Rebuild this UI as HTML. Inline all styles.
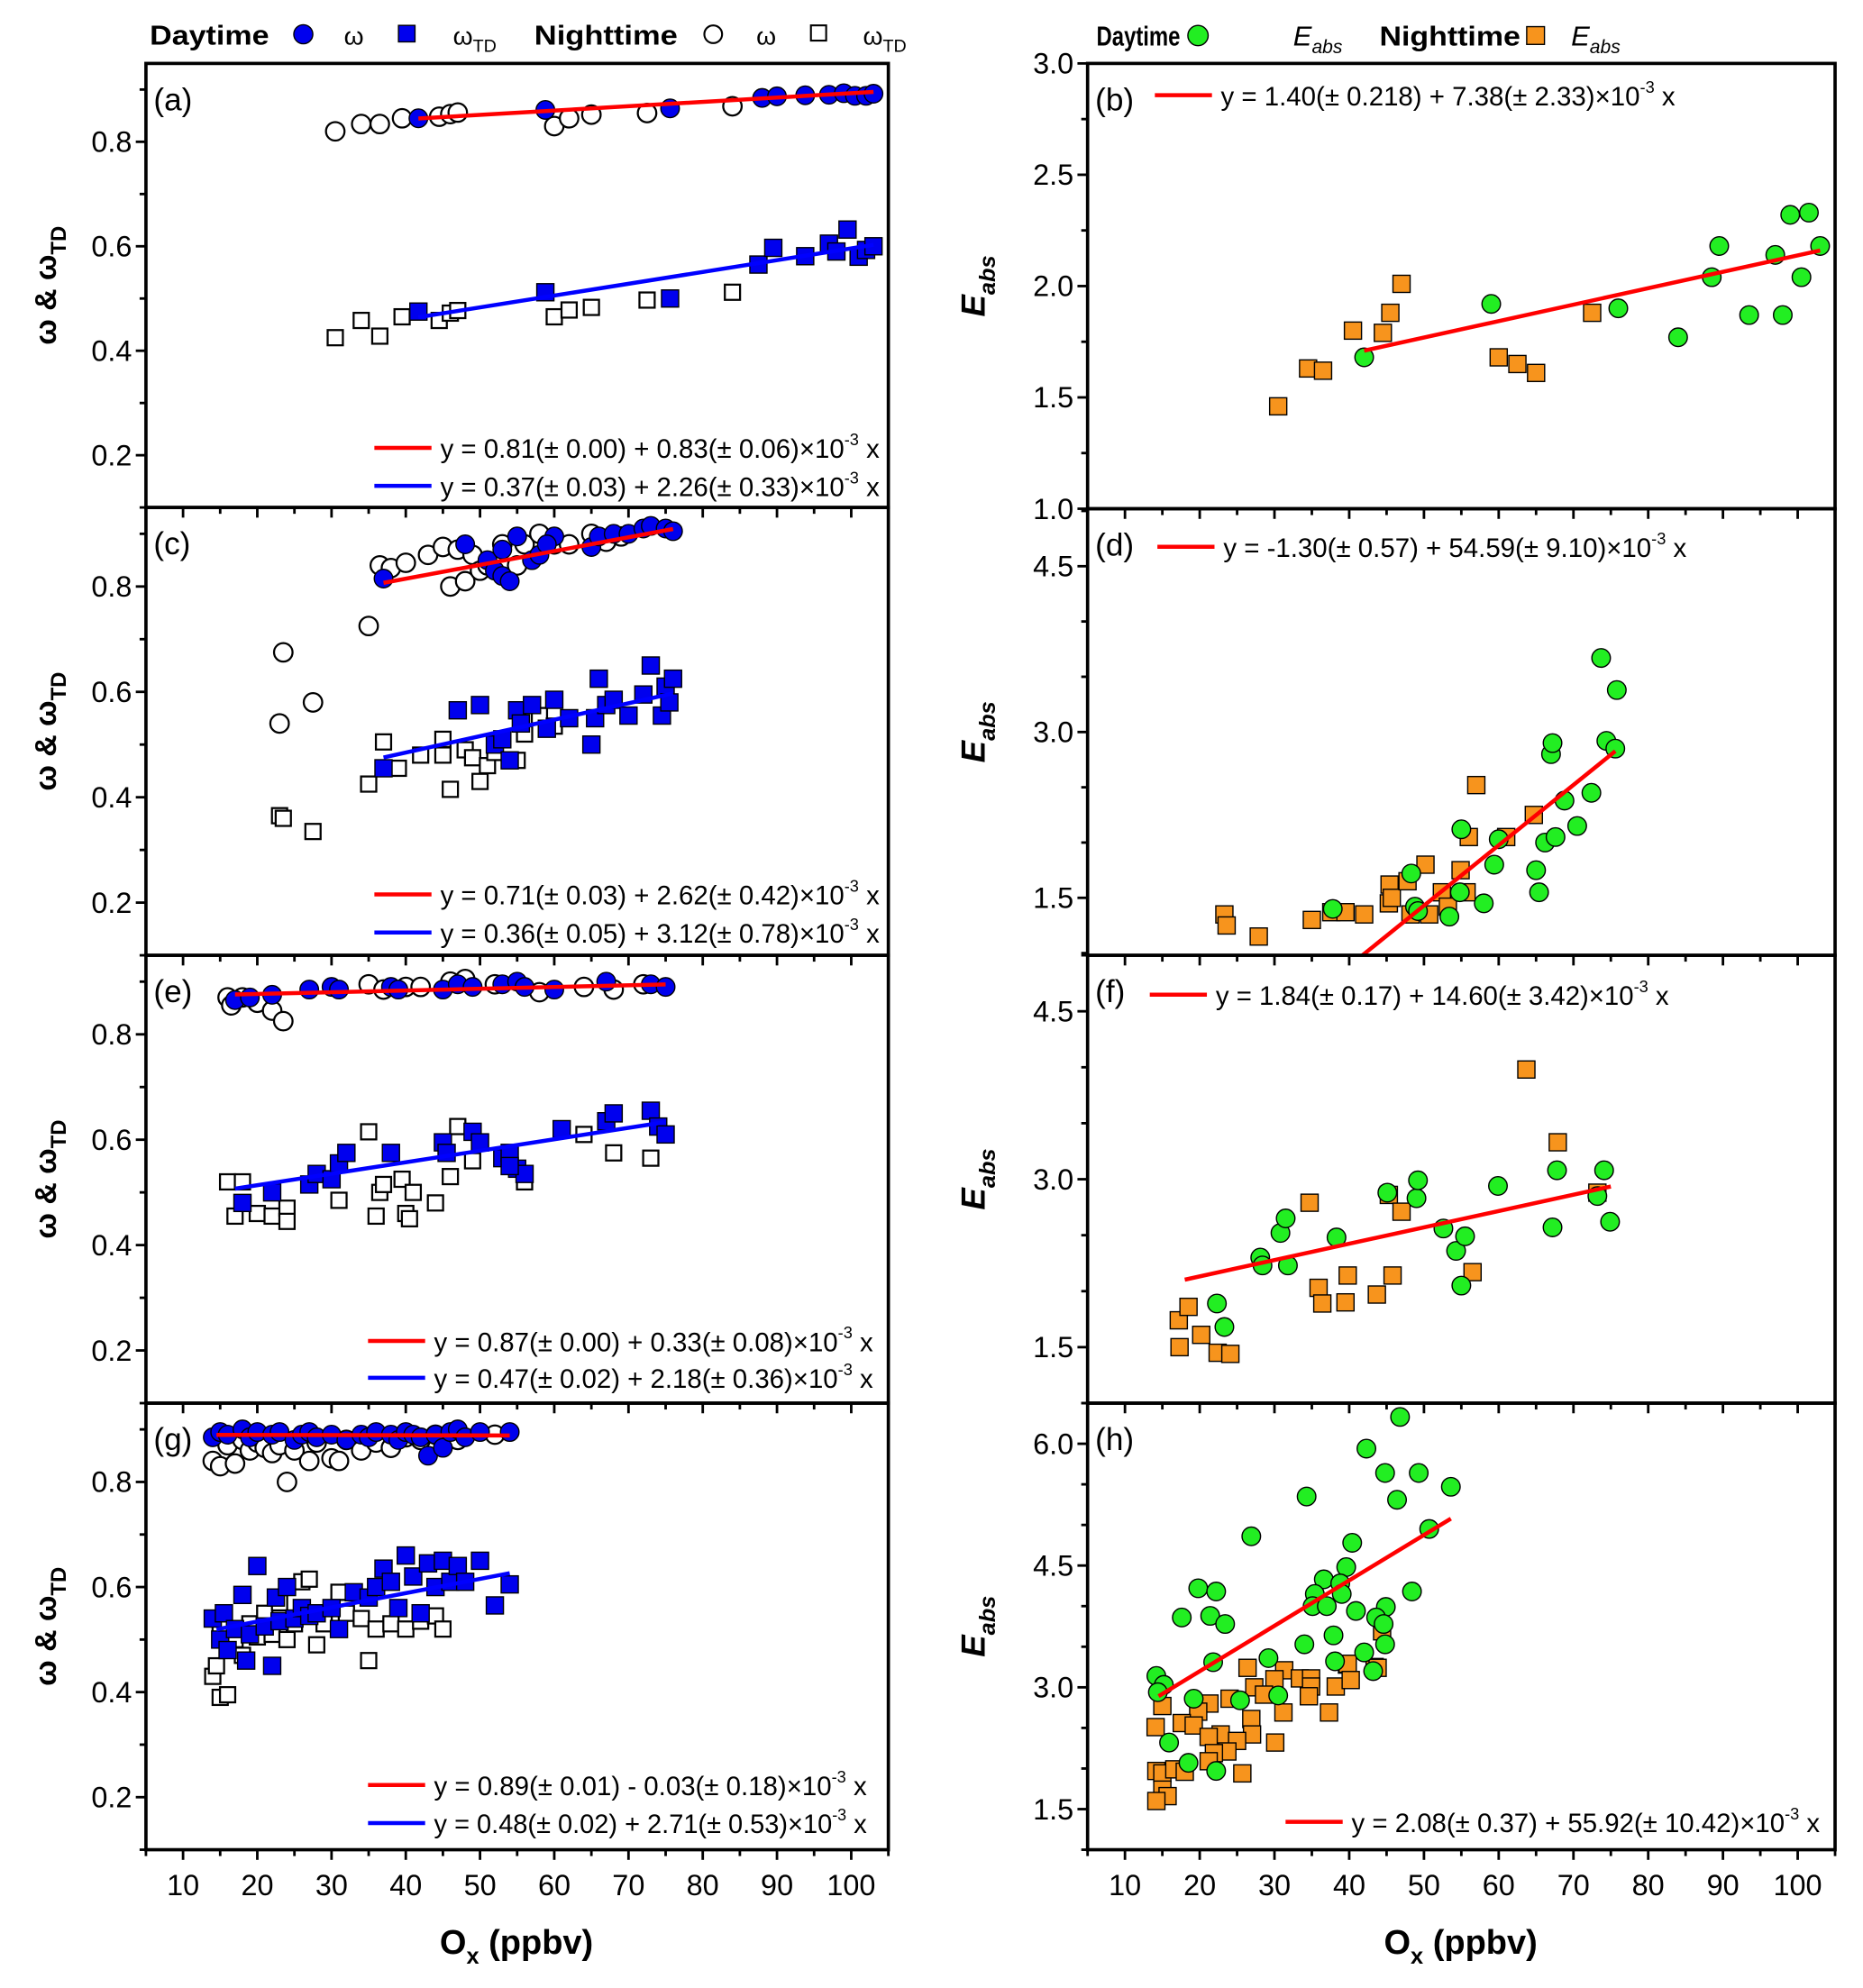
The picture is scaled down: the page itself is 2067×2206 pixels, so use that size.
<!DOCTYPE html>
<html><head><meta charset="utf-8">
<style>
html,body{margin:0;padding:0;background:#fff;}
svg{display:block;}
text{font-family:"Liberation Sans Narrow","Liberation Sans",sans-serif;}
.b{font-family:"Liberation Sans",sans-serif;font-weight:bold;}
</style></head>
<body>
<svg id="fig" xmlns="http://www.w3.org/2000/svg" width="2067" height="2206" viewBox="0 0 1468 1567" preserveAspectRatio="none">
<g>
<text class="b" x="118" y="35" font-size="22" textLength="94" lengthAdjust="spacingAndGlyphs">Daytime</text>
<circle cx="239" cy="27" r="7.5" fill="#0000ee" stroke="#000" stroke-width="1"/>
<text x="271" y="35" font-size="20">ω</text>
<rect x="314" y="20" width="13" height="13" fill="#0000ee" stroke="#000" stroke-width="1"/>
<text x="357" y="35" font-size="20">ω<tspan font-size="14" dy="6">TD</tspan></text>
<text class="b" x="421" y="35" font-size="22" textLength="113" lengthAdjust="spacingAndGlyphs">Nighttime</text>
<circle cx="562" cy="27" r="7" fill="#fff" stroke="#000" stroke-width="1.5"/>
<text x="596" y="35" font-size="20">ω</text>
<rect x="639" y="20" width="12" height="12" fill="#fff" stroke="#000" stroke-width="1.5"/>
<text x="680" y="35" font-size="20">ω<tspan font-size="14" dy="6">TD</tspan></text>
</g>
<g>
<text class="b" x="864" y="36" font-size="22" textLength="66" lengthAdjust="spacingAndGlyphs">Daytime</text>
<circle cx="944" cy="28" r="8" fill="#22ee22" stroke="#000" stroke-width="1"/>
<text x="1019" y="36" font-size="22" font-style="italic">E<tspan font-size="15" dy="6">abs</tspan></text>
<text class="b" x="1087" y="36" font-size="22" textLength="111" lengthAdjust="spacingAndGlyphs">Nighttime</text>
<rect x="1203" y="21" width="14" height="14" fill="#f7941d" stroke="#000" stroke-width="1"/>
<text x="1238" y="36" font-size="22" font-style="italic">E<tspan font-size="15" dy="6">abs</tspan></text>
</g>
<g id="plots"></g>
</svg>
<script>
// ---- data (x = Ox ppbv, y = value) ----
const xTicks = [10,20,30,40,50,60,70,80,90,100];
const leftTickLabels = ["0.2","0.4","0.6","0.8"];
const bTickLabels = ["1.0","1.5","2.0","2.5","3.0"];
const dfTickLabels = ["1.5","3.0","4.5"];
const hTickLabels = ["1.5","3.0","4.5","6.0"];

const aDayW = [[41.7,0.845],[58.8,0.861],[75.6,0.864],[88,0.884],[90,0.887],[93.8,0.889],[97,0.89],[99,0.893],[100.5,0.888],[102,0.888],[103,0.892]];
const aDayTD = [[41.7,0.475],[58.8,0.512],[75.6,0.5],[87.5,0.565],[89.5,0.597],[93.8,0.581],[97,0.605],[99.5,0.632],[98,0.59],[101,0.58],[102,0.593],[103,0.6]];
const aNightW = [[30.5,0.82],[34,0.834],[36.5,0.834],[39.5,0.845],[44.5,0.848],[46,0.853],[47,0.856],[60,0.83],[62,0.845],[65,0.852],[72.5,0.855],[84,0.868]];
const aNightTD = [[30.5,0.425],[34,0.458],[36.5,0.428],[39.5,0.465],[44.5,0.458],[46,0.472],[47,0.477],[60,0.465],[62,0.478],[65,0.483],[72.5,0.497],[84,0.512]];

const cDayW = [[37,0.815],[48,0.88],[51,0.85],[52,0.83],[53,0.82],[54,0.81],[55,0.895],[57,0.85],[58,0.86],[60,0.895],[65,0.875],[66,0.895],[68,0.9],[70,0.9],[72,0.91],[73,0.915],[75,0.91],[76,0.905],[53,0.87],[59,0.88]];
const cNightW = [[23,0.54],[23.5,0.675],[27.5,0.58],[35,0.725],[36.5,0.84],[38,0.835],[40,0.845],[43,0.86],[45,0.875],[46,0.8],[47,0.87],[48,0.81],[49,0.86],[50,0.83],[51,0.84],[53,0.88],[55,0.84],[56,0.88],[58,0.9],[60,0.88],[62,0.88],[65,0.9],[67,0.885],[69,0.895]];
const cDayTD = [[37,0.455],[47,0.565],[50,0.575],[52,0.5],[53,0.51],[54,0.47],[55,0.565],[55.5,0.54],[57,0.575],[59,0.53],[60,0.585],[62,0.55],[65,0.5],[65.5,0.55],[66,0.625],[67,0.575],[68,0.585],[70,0.555],[72,0.595],[73,0.65],[74.5,0.555],[75,0.61],[76,0.625],[75.5,0.58]];
const cNightTD = [[23,0.365],[23.5,0.36],[27.5,0.335],[35,0.425],[37,0.505],[39,0.455],[42,0.48],[45,0.51],[45,0.48],[46,0.415],[48,0.49],[49,0.475],[50,0.43],[51,0.46],[52,0.485],[55,0.47],[56,0.52],[58,0.555],[60,0.535]];

const eDayW = [[17,0.865],[19,0.87],[22,0.875],[27,0.885],[30,0.89],[31,0.885],[38,0.89],[39,0.885],[45,0.885],[47,0.895],[49,0.89],[53,0.895],[55,0.9],[56,0.89],[60,0.885],[67,0.9],[73,0.895],[75,0.89]];
const eNightW = [[16,0.87],[16.5,0.855],[18,0.87],[20,0.86],[22,0.845],[23.5,0.825],[35,0.895],[37,0.885],[40,0.89],[42,0.89],[46,0.9],[48,0.905],[52,0.895],[58,0.88],[64,0.89],[68,0.885],[72,0.895]];
const eDayTD = [[18,0.48],[22,0.5],[27,0.515],[28,0.535],[30,0.525],[31,0.555],[32,0.575],[38,0.575],[45,0.595],[45.5,0.575],[49,0.615],[50,0.595],[53,0.565],[54,0.575],[55,0.545],[56,0.535],[61,0.62],[67,0.635],[68,0.65],[73,0.655],[74,0.625],[75,0.61],[54,0.55]];
const eNightTD = [[16,0.52],[17,0.455],[18,0.52],[20,0.46],[22,0.455],[24,0.47],[24,0.445],[31,0.485],[35,0.615],[36,0.455],[36.5,0.5],[37,0.515],[39.5,0.525],[40,0.46],[40.5,0.45],[41,0.5],[44,0.48],[46,0.53],[47,0.625],[49,0.56],[56,0.52],[64,0.61],[68,0.575],[73,0.565]];

const gDayW = [[14,0.885],[15,0.895],[16,0.89],[18,0.9],[19,0.885],[20,0.895],[22,0.89],[23,0.895],[25,0.88],[26,0.89],[27,0.895],[28,0.885],[30,0.89],[32,0.88],[34,0.89],[35,0.885],[36,0.895],[38,0.89],[39,0.88],[40,0.895],[41,0.89],[42,0.885],[43,0.85],[44,0.89],[45,0.865],[46,0.895],[47,0.9],[48,0.885],[50,0.895],[54,0.895]];
const gNightW = [[14,0.84],[15,0.83],[16,0.87],[17,0.835],[18,0.88],[19,0.86],[20,0.875],[21,0.865],[22,0.855],[23,0.87],[24,0.8],[25,0.86],[27,0.84],[28,0.875],[30,0.845],[31,0.84],[32,0.88],[34,0.86],[36,0.875],[38,0.865],[40,0.885],[42,0.88],[44,0.89],[47,0.88],[52,0.89]];
const gDayTD = [[14,0.54],[15,0.5],[15.5,0.55],[16,0.48],[17,0.52],[18,0.585],[18.5,0.46],[19,0.51],[20,0.64],[21,0.525],[22,0.45],[22.5,0.58],[23,0.535],[24,0.6],[25,0.54],[26,0.56],[27,0.545],[28,0.55],[30,0.56],[31,0.52],[33,0.59],[35,0.58],[36,0.6],[37,0.635],[38,0.61],[39,0.56],[40,0.66],[41,0.62],[42,0.55],[43,0.645],[44,0.6],[45,0.65],[46,0.61],[47,0.64],[48,0.61],[50,0.65],[52,0.565],[54,0.605]];
const gNightTD = [[14,0.43],[14.5,0.45],[15,0.39],[16,0.395],[15,0.52],[17,0.5],[18,0.47],[19,0.53],[20,0.505],[21,0.55],[22,0.51],[23,0.57],[24,0.5],[25,0.53],[26,0.61],[27,0.615],[28,0.49],[29,0.53],[31,0.59],[32,0.55],[34,0.54],[35,0.46],[36,0.52],[38,0.53],[40,0.52],[42,0.535],[44,0.545],[45,0.52]];

const bDay = [[42,1.68],[59,1.92],[76,1.9],[84,1.77],[88.5,2.04],[89.5,2.18],[93.5,1.87],[97,2.14],[98,1.87],[99,2.32],[100.5,2.04],[101.5,2.33],[103,2.18]];
const bNight = [[30.5,1.46],[34.5,1.63],[36.5,1.62],[40.5,1.8],[44.5,1.79],[45.5,1.88],[47,2.01],[60,1.68],[62.5,1.65],[65,1.61],[72.5,1.88]];

const dDay = [[37.8,1.4],[48.3,1.72],[48.8,1.42],[49.2,1.38],[53.4,1.33],[54.8,1.55],[55,2.12],[58,1.45],[59.4,1.8],[60,2.03],[65,1.75],[65.4,1.55],[66.2,2.0],[67,2.8],[67.2,2.9],[67.6,2.05],[68.8,2.38],[70.5,2.15],[72.4,2.45],[73.7,3.67],[74.4,2.92],[75.8,3.38],[75.6,2.85]];
const dNight = [[23.3,1.35],[23.6,1.25],[27.9,1.15],[35,1.3],[37.6,1.37],[39.5,1.37],[42,1.35],[45.3,1.45],[45.4,1.62],[45.7,1.5],[47.8,1.65],[48.2,1.35],[50.2,1.8],[50.7,1.35],[52.4,1.55],[53.2,1.42],[54.9,1.75],[55.7,1.55],[56,2.05],[57,2.52],[61,2.05],[64.7,2.25]];

const fDay = [[22.3,1.89],[23.3,1.68],[28.1,2.3],[28.4,2.23],[30.8,2.52],[31.5,2.65],[31.8,2.23],[38.3,2.48],[45.1,2.88],[49,2.83],[49.2,2.99],[52.6,2.56],[54.3,2.36],[55,2.05],[55.5,2.49],[59.9,2.94],[67.2,2.57],[67.8,3.08],[73.2,2.85],[74.1,3.08],[74.9,2.62]];
const fNight = [[17.2,1.74],[18.5,1.86],[17.3,1.5],[20.2,1.61],[22.4,1.45],[24.1,1.44],[34.7,2.79],[35.9,2.03],[36.4,1.89],[39.5,1.9],[39.8,2.14],[43.7,1.97],[45.3,2.86],[45.8,2.14],[47,2.71],[56.5,2.17],[63.7,3.98],[67.9,3.33],[73.2,2.88]];

const hDay = [[46.8,6.33],[42.3,5.94],[44.8,5.64],[49.3,5.64],[53.6,5.47],[34.3,5.35],[46.4,5.31],[50.7,4.95],[26.9,4.86],[40.4,4.78],[39.6,4.48],[36.6,4.33],[38.8,4.28],[19.8,4.22],[22.2,4.18],[48.4,4.18],[35.4,4.15],[39.0,4.15],[35.1,4.0],[37.0,4.0],[44.9,3.99],[40.9,3.94],[21.4,3.88],[43.6,3.86],[17.6,3.86],[23.4,3.78],[44.6,3.78],[37.9,3.64],[34.0,3.53],[44.8,3.53],[42.0,3.43],[21.8,3.31],[38.1,3.32],[29.2,3.36],[43.2,3.2],[14.2,3.14],[15.2,3.03],[14.4,2.94],[19.2,2.86],[25.4,2.84],[30.5,2.9],[15.9,2.32],[18.5,2.07],[22.2,1.97]];
const hNight = [[26.4,3.24],[31.3,3.21],[30.0,3.1],[33.4,3.11],[34.9,3.11],[27.3,3.0],[34.9,3.01],[38.2,3.01],[39.7,3.28],[43.4,3.25],[43.8,3.24],[39.8,3.29],[28.6,2.91],[34.6,2.89],[24.0,2.86],[15.0,2.77],[21.3,2.8],[19.8,2.7],[31.2,2.69],[37.3,2.69],[14.1,2.51],[17.6,2.56],[26.9,2.61],[19.2,2.53],[22.8,2.42],[21.2,2.39],[27.0,2.42],[25.0,2.34],[30.1,2.32],[23.7,2.21],[21.9,2.19],[21.2,2.09],[25.7,1.94],[14.2,1.97],[15.0,1.94],[16.6,1.99],[18.0,1.96],[15.0,1.74],[15.7,1.66],[14.2,1.6],[44.4,3.69],[40.2,3.09]];

// fits: intercept, slope (x1e-3), x range
const fitIntercepts = {a1:0.81,a2:0.37,b:1.40,c1:0.71,c2:0.36,d:-1.30,e1:0.87,e2:0.47,f:1.84,g1:0.89,g2:0.48,h:2.08};
const fitSlopes = {a1:0.83,a2:2.26,b:7.38,c1:2.62,c2:3.12,d:54.59,e1:0.33,e2:2.18,f:14.60,g1:-0.03,g2:2.71,h:55.92};
const fitRanges = {a1:[41.7,103],a2:[41.7,103],b:[42,103],c1:[37,76],c2:[37,76],d:[38,75.6],e1:[17,75],e2:[17,75],f:[18,75],g1:[14.5,54],g2:[14.5,54],h:[14.5,53.6]};

// ---- drawing ----
const NS="http://www.w3.org/2000/svg";
const root=document.getElementById('plots');
const XMIN=5,XMAX=105;
function el(tag,attrs,parent){const e=document.createElementNS(NS,tag);for(const k in attrs)e.setAttribute(k,attrs[k]);(parent||root).appendChild(e);return e;}

const L={x0:115,x1:700}, R={x0:857,x1:1446};
const panels=[
 {id:'a',side:L,y0:50,y1:400,ymin:0.1,ymax:0.95,labels:leftTickLabels,minor:0.1,bottom:false},
 {id:'c',side:L,y0:400,y1:753,ymin:0.1,ymax:0.95,labels:leftTickLabels,minor:0.1,bottom:false},
 {id:'e',side:L,y0:753,y1:1106,ymin:0.1,ymax:0.95,labels:leftTickLabels,minor:0.1,bottom:false},
 {id:'g',side:L,y0:1106,y1:1458,ymin:0.1,ymax:0.95,labels:leftTickLabels,minor:0.1,bottom:true},
 {id:'b',side:R,y0:50,y1:401,ymin:1.0,ymax:3.0,labels:bTickLabels,minor:0.25,bottom:false},
 {id:'d',side:R,y0:401,y1:753,ymin:0.98,ymax:5.02,labels:dfTickLabels,minor:0.5,bottom:false},
 {id:'f',side:R,y0:753,y1:1106,ymin:1.0,ymax:5.0,labels:dfTickLabels,minor:0.5,bottom:false},
 {id:'h',side:R,y0:1106,y1:1458,ymin:1.0,ymax:6.5,labels:hTickLabels,minor:0.5,bottom:true}
];

function makeScales(p){
 const sx=v=>p.side.x0+(v-XMIN)/(XMAX-XMIN)*(p.side.x1-p.side.x0);
 const sy=v=>p.y1-(v-p.ymin)/(p.ymax-p.ymin)*(p.y1-p.y0);
 return {sx,sy};
}

const P={};
panels.forEach(p=>{
 const {sx,sy}=makeScales(p); p.sx=sx; p.sy=sy; P[p.id]=p;
 const g=el('g',{});
 
 
 p.g=g;
 const cp=el('clipPath',{id:'clip-'+p.id},g);
 el('rect',{x:p.side.x0,y:p.y0,width:p.side.x1-p.side.x0,height:p.y1-p.y0},cp);
 p.plot=el('g',{'clip-path':'url(#clip-'+p.id+')'},g);
 const yt=el('g',{},g);
 
 
 const start=Math.ceil(p.ymin/p.minor-1e-6)*p.minor;
 for(let v=start;v<=p.ymax+1e-9;v+=p.minor){
   const y=sy(v);
   const isMaj=p.labels.some(l=>Math.abs(parseFloat(l)-v)<1e-6);
   el('line',{x1:p.side.x0,x2:p.side.x0-(isMaj?8:5),y1:y,y2:y,stroke:'#000','stroke-width':2},yt);
 }
 p.labels.forEach(l=>{
   const t=el('text',{x:p.side.x0-11,y:sy(parseFloat(l))+8,'font-size':23,'text-anchor':'end'},yt);
   t.textContent=l;
   
   
 });
 const xt=el('g',{},g);
 
 
 for(let v=5;v<=105;v+=5){
   const x=sx(v), maj=(v%10===0);
   el('line',{x1:x,x2:x,y1:p.y1,y2:p.y1+(maj?8:5),stroke:'#000','stroke-width':2},xt);
 }
 if(p.bottom){
   xTicks.forEach(v=>{
     const t=el('text',{x:sx(v),y:p.y1+36,'font-size':23,'text-anchor':'middle'},xt);
     t.textContent=v;
     
     
   });
 }
 const lab=el('text',{x:p.side.x0+6,y:p.y0+37,'font-size':25},g);
 lab.textContent='('+p.id+')';
 
 
});

function circles(p,data,fill,name){
 const g=el('g',{},p.plot);
 
 
 data.forEach(d=>{
   const c=el('circle',{cx:p.sx(d[0]),cy:p.sy(d[1]),r:7.3,fill:fill,stroke:'#000','stroke-width':fill==='#fff'?1.6:1},g);
   
   
 });
}
function squares(p,data,fill,name){
 const g=el('g',{},p.plot);
 
 
 data.forEach(d=>{
   const s=fill==='#fff'?12:13.5;
   const r=el('rect',{x:p.sx(d[0])-s/2,y:p.sy(d[1])-s/2,width:s,height:s,fill:fill,stroke:'#000','stroke-width':fill==='#fff'?1.6:1},g);
   
   
 });
}
function fit(p,key,color){
 const r=fitRanges[key], a=fitIntercepts[key], b=fitSlopes[key]*1e-3;
 const ln=el('line',{x1:p.sx(r[0]),y1:p.sy(a+b*r[0]),x2:p.sx(r[1]),y2:p.sy(a+b*r[1]),stroke:color,'stroke-width':3.2},p.plot);
 
 
}
const BLUE='#0000ee',GREEN='#22ee22',ORANGE='#f7941d',WHITE='#fff',RED='#ff0000',LBLUE='#0000ff';

circles(P.a,aNightW,WHITE,'night-omega');squares(P.a,aNightTD,WHITE,'night-omega-td');
circles(P.a,aDayW,BLUE,'day-omega');squares(P.a,aDayTD,BLUE,'day-omega-td');
fit(P.a,'a1',RED);fit(P.a,'a2',LBLUE);
circles(P.c,cNightW,WHITE,'night-omega');squares(P.c,cNightTD,WHITE,'night-omega-td');
circles(P.c,cDayW,BLUE,'day-omega');squares(P.c,cDayTD,BLUE,'day-omega-td');
fit(P.c,'c1',RED);fit(P.c,'c2',LBLUE);
circles(P.e,eNightW,WHITE,'night-omega');squares(P.e,eNightTD,WHITE,'night-omega-td');
circles(P.e,eDayW,BLUE,'day-omega');squares(P.e,eDayTD,BLUE,'day-omega-td');
fit(P.e,'e1',RED);fit(P.e,'e2',LBLUE);
circles(P.g,gNightW,WHITE,'night-omega');squares(P.g,gNightTD,WHITE,'night-omega-td');
circles(P.g,gDayW,BLUE,'day-omega');squares(P.g,gDayTD,BLUE,'day-omega-td');
fit(P.g,'g1',RED);fit(P.g,'g2',LBLUE);
squares(P.b,bNight,ORANGE,'night-eabs');circles(P.b,bDay,GREEN,'day-eabs');fit(P.b,'b',RED);
squares(P.d,dNight,ORANGE,'night-eabs');circles(P.d,dDay,GREEN,'day-eabs');fit(P.d,'d',RED);
squares(P.f,fNight,ORANGE,'night-eabs');circles(P.f,fDay,GREEN,'day-eabs');fit(P.f,'f',RED);
squares(P.h,hNight,ORANGE,'night-eabs');circles(P.h,hDay,GREEN,'day-eabs');fit(P.h,'h',RED);

panels.forEach(p=>{
 el('rect',{x:p.side.x0,y:p.y0,width:p.side.x1-p.side.x0,height:p.y1-p.y0,fill:'none',stroke:'#000','stroke-width':2.6},p.g);
});

function eq(p,key,color,lx,ly,txt,len){
 const g=el('g',{},p.g);
 
 
 el('line',{x1:lx,x2:lx+45,y1:ly,y2:ly,stroke:color,'stroke-width':3.2},g);
 const t=el('text',{x:lx+52,y:ly+8,'font-size':21,textLength:len,lengthAdjust:'spacingAndGlyphs'},g);
 t.innerHTML=txt+'×10<tspan font-size="13" dy="-10">-3</tspan><tspan dy="10"> x</tspan>';
}
eq(P.a,'a1',RED,295,353,'y = 0.81(± 0.00) + 0.83(± 0.06)',346);
eq(P.a,'a2',LBLUE,295,383,'y = 0.37(± 0.03) + 2.26(± 0.33)',346);
eq(P.c,'c1',RED,295,705,'y = 0.71(± 0.03) + 2.62(± 0.42)',346);
eq(P.c,'c2',LBLUE,295,735,'y = 0.36(± 0.05) + 3.12(± 0.78)',346);
eq(P.e,'e1',RED,290,1057,'y = 0.87(± 0.00) + 0.33(± 0.08)',346);
eq(P.e,'e2',LBLUE,290,1086,'y = 0.47(± 0.02) + 2.18(± 0.36)',346);
eq(P.g,'g1',RED,290,1407,'y = 0.89(± 0.01) - 0.03(± 0.18)',341);
eq(P.g,'g2',LBLUE,290,1437,'y = 0.48(± 0.02) + 2.71(± 0.53)',341);
eq(P.b,'b',RED,910,75,'y = 1.40(± 0.218) + 7.38(± 2.33)',358);
eq(P.d,'d',RED,912,431,'y = -1.30(± 0.57) + 54.59(± 9.10)',365);
eq(P.f,'f',RED,906,784,'y = 1.84(± 0.17) + 14.60(± 3.42)',357);
eq(P.h,'h',RED,1013,1436,'y = 2.08(± 0.37) + 55.92(± 10.42)',369);

const svg=document.getElementById('fig');
[[P.a],[P.c],[P.e],[P.g]].forEach(([p])=>{
 const cy=(p.y0+p.y1)/2;
 const t=el('text',{class:'b','font-size':24,'text-anchor':'middle',transform:'translate(44,'+cy+') rotate(-90)'},svg);
 t.innerHTML='ω &amp; ω<tspan font-size="17" dy="8">TD</tspan>';
 
 
});
[[P.b],[P.d],[P.f],[P.h]].forEach(([p])=>{
 const cy=(p.y0+p.y1)/2;
 const t=el('text',{class:'b','font-size':26,'font-style':'italic','text-anchor':'middle',transform:'translate(776,'+cy+') rotate(-90)'},svg);
 t.innerHTML='E<tspan font-size="18" dy="8">abs</tspan>';
 
 
});
[[407],[1151]].forEach(([cx])=>{
 const t=el('text',{class:'b',x:cx,y:1540,'font-size':27,'text-anchor':'middle'},svg);
 t.innerHTML='O<tspan font-size="18" dy="8">x</tspan><tspan dy="-8"> (ppbv)</tspan>';
 
 
});
</script>
</body></html>
